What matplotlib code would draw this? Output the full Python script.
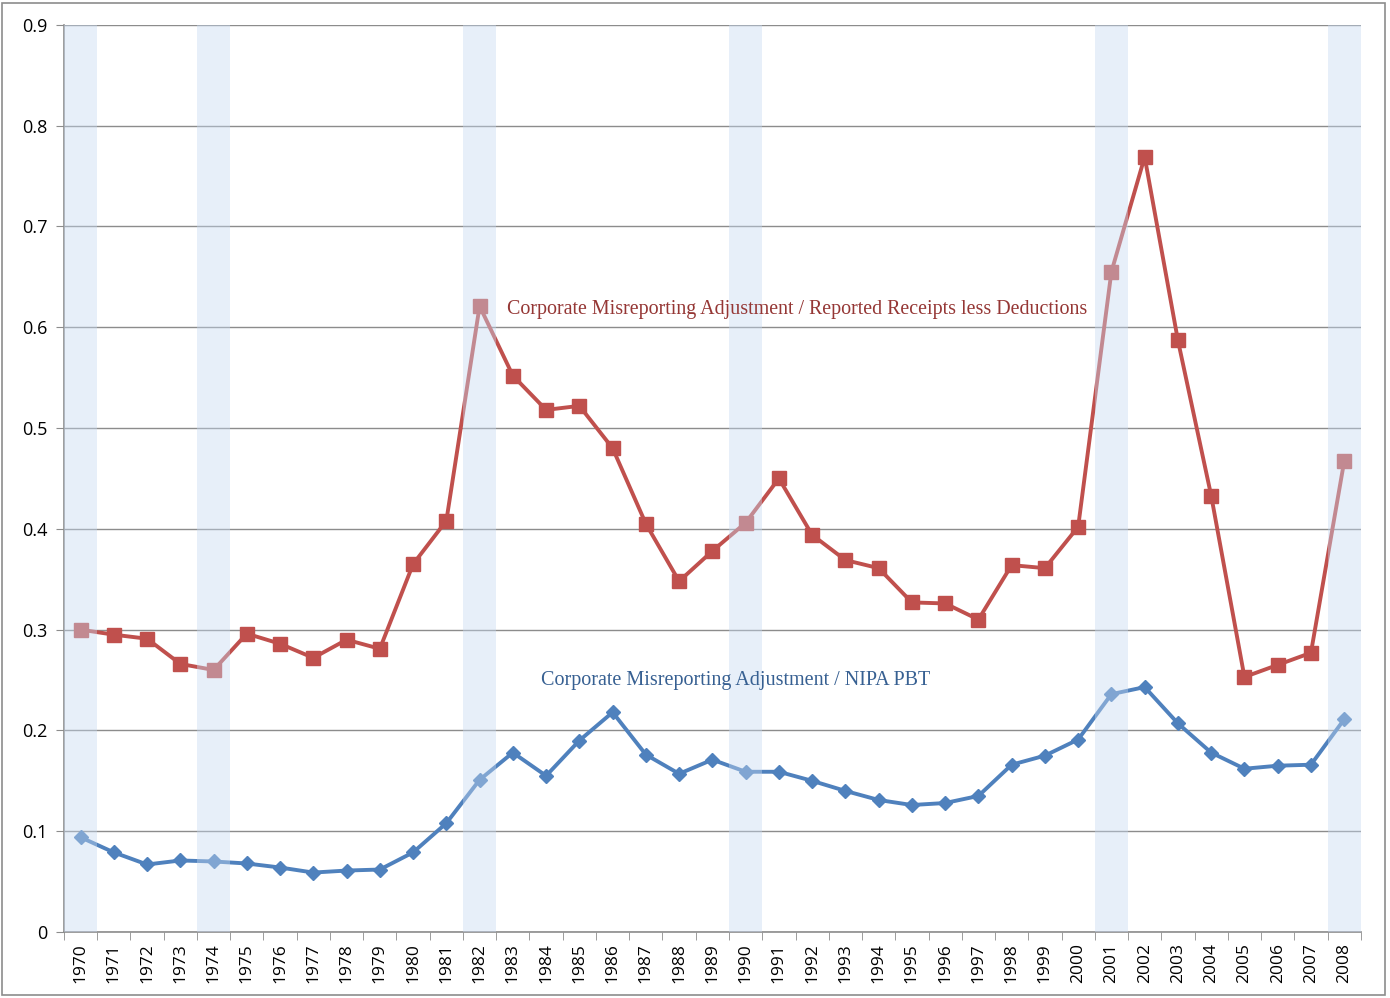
import matplotlib
matplotlib.use("Agg")
import matplotlib.pyplot as plt
from matplotlib.patches import Rectangle

years = list(range(1970, 2009))
red_vals = [0.300, 0.295, 0.291, 0.266, 0.260, 0.296, 0.286, 0.272, 0.290, 0.281,
            0.365, 0.408, 0.621, 0.552, 0.518, 0.522, 0.480, 0.405, 0.348, 0.378,
            0.406, 0.450, 0.394, 0.369, 0.361, 0.327, 0.326, 0.310, 0.364, 0.361,
            0.402, 0.655, 0.769, 0.587, 0.433, 0.253, 0.265, 0.277, 0.467]
blue_vals = [0.094, 0.079, 0.067, 0.071, 0.070, 0.068, 0.064, 0.059, 0.061, 0.062,
             0.079, 0.108, 0.151, 0.178, 0.155, 0.190, 0.218, 0.176, 0.157, 0.171,
             0.159, 0.159, 0.150, 0.140, 0.131, 0.126, 0.128, 0.135, 0.166, 0.175,
             0.191, 0.236, 0.243, 0.207, 0.178, 0.162, 0.165, 0.166, 0.211]
recession_years = [1970, 1974, 1982, 1990, 2001, 2008]
y_ticks = [0, 0.1, 0.2, 0.3, 0.4, 0.5, 0.6, 0.7, 0.8, 0.9]
red_label = "Corporate Misreporting Adjustment / Reported Receipts less Deductions"
blue_label = "Corporate Misreporting Adjustment / NIPA PBT"

fig = plt.figure(figsize=(13.9, 9.98), dpi=100)
ax = fig.add_axes([0.046, 0.0661, 0.933, 0.909])

x = list(range(len(years)))
ax.plot(x, red_vals, color="#C0504D", lw=2.8, marker="s", ms=10, zorder=3)
ax.plot(x, blue_vals, color="#4F81BD", lw=2.8, marker="D", ms=7.5, zorder=3)

for ry in recession_years:
    i = years.index(ry)
    ax.axvspan(i - 0.5, i + 0.5, ymin=0, ymax=1, facecolor="#C6D9F1", alpha=0.42,
               edgecolor="none", zorder=4)

ax.set_xlim(-0.5, len(years) - 0.5)
ax.set_ylim(0, 0.9)
ax.set_yticks(y_ticks)
ax.set_yticklabels(["0"] + [f"{v:.1f}" for v in y_ticks[1:]], fontsize=13,
                   family="Open Sans")
ax.yaxis.grid(True, color="#8c8c8c", lw=1.0, zorder=1)
ax.set_axisbelow(True)

ax.set_xticks(x)
ax.set_xticklabels([str(y) for y in years], rotation=90, fontsize=12.5,
                   family="Open Sans")
ax.set_xticks([i - 0.5 for i in range(len(years) + 1)], minor=True)
ax.tick_params(axis="x", which="major", length=0, pad=8)
ax.tick_params(axis="x", which="minor", length=6, color="#8c8c8c")
ax.tick_params(axis="y", length=6, color="#8c8c8c", pad=6)

for s in ["top", "right"]:
    ax.spines[s].set_visible(False)
for s in ["left", "bottom"]:
    ax.spines[s].set_color("#8c8c8c")
    ax.spines[s].set_linewidth(1.2)

ax.text(12.83, 0.6175, red_label, color="#953735", fontsize=14.45,
        family="Liberation Serif", va="center", ha="left", zorder=5)
ax.text(13.84, 0.250, blue_label, color="#376092", fontsize=14.5,
        family="Liberation Serif", va="center", ha="left", zorder=5)

fig.patches.append(Rectangle((0.0015, 0.003), 0.995, 0.994, transform=fig.transFigure,
                             fill=False, edgecolor="#8c8c8c", lw=1.2))

fig.savefig("out.png", dpi=100, facecolor="white")
